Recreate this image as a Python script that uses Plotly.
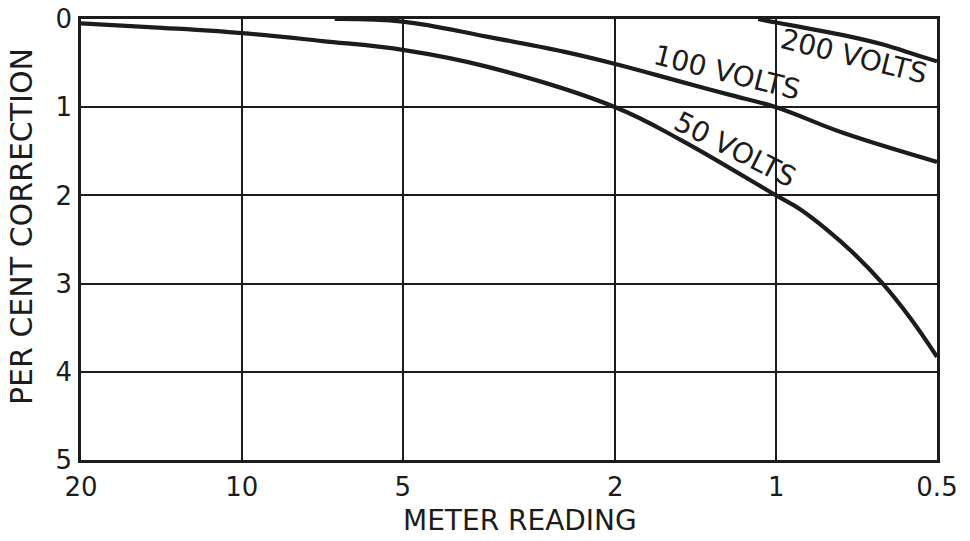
import math
import plotly.graph_objects as go

# ---- data ----
x_ticks = [20, 10, 5, 2, 1, 0.5]
x_tick_labels = ["20", "10", "5", "2", "1", "0.5"]
y_ticks = [0, 1, 2, 3, 4, 5]
y_tick_labels = ["0", "1", "2", "3", "4", "5"]

volts50_x = [20, 14.1, 10, 7.07, 5, 3.48, 2, 1.51, 1, 0.902, 0.803, 0.718, 0.634, 0.562, 0.5]
volts50_y = [0.05, 0.10, 0.16, 0.25, 0.35, 0.54, 1.0, 1.37, 2.0, 2.156, 2.39, 2.65, 2.99, 3.385, 3.83]

volts100_x = [6.7, 5, 3.48, 2.5, 2, 1.51, 1.22, 1, 0.75, 0.5]
volts100_y = [0.0, 0.03, 0.2, 0.37, 0.51, 0.71, 0.86, 1.0, 1.29, 1.62]

volts200_x = [1.08, 1, 0.902, 0.727, 0.631, 0.545, 0.5]
volts200_y = [0.0, 0.04, 0.09, 0.2, 0.29, 0.41, 0.48]

series_names = ["50 VOLTS", "100 VOLTS", "200 VOLTS"]

INK = "#1c1c1c"
FONT = "DejaVu Sans"

fig = go.Figure()
for xs, ys, name in [(volts50_x, volts50_y, series_names[0]),
                     (volts100_x, volts100_y, series_names[1]),
                     (volts200_x, volts200_y, series_names[2])]:
    fig.add_trace(go.Scatter(x=xs, y=ys, mode="lines", name=name,
                             line=dict(color=INK, width=4.2, shape="spline", smoothing=1.1),
                             showlegend=False, hoverinfo="skip"))

# plot-area geometry (pixels) used for masks that break the grid near labels
W, H = 970, 541
ML, MR, MT, MB = 81, 33, 19, 81
PW, PH = W - ML - MR, H - MT - MB


def to_paper(px, py):
    return (px - ML) / PW, 1 - (py - MT) / PH


def mask_path(cx, cy, w, h, ang):
    a = math.radians(ang)
    ca, sa = math.cos(a), math.sin(a)
    pts = []
    for dx, dy in [(-w / 2, -h / 2), (w / 2, -h / 2), (w / 2, h / 2), (-w / 2, h / 2)]:
        px = cx + dx * ca - dy * sa
        py = cy + dx * sa + dy * ca
        pts.append(to_paper(px, py))
    return "M " + " L ".join(f"{x:.4f},{y:.4f}" for x, y in pts) + " Z"


# labels: (text, x value, y value, angle, mask width, mask height)
labels = [
    (series_names[2], 0.715, 0.43, 14, 168, 28),
    (series_names[1], 1.236, 0.61, 14, 162, 28),
    (series_names[0], 1.194, 1.485, 27, 142, 28),
]


def to_px(xv, yv):
    px = ML + (math.log10(20) - math.log10(xv)) / (math.log10(20) - math.log10(0.5)) * PW
    py = MT + yv / 5 * PH
    return px, py


shapes = []
annotations = []
for text, xv, yv, ang, mw, mh in labels:
    cx, cy = to_px(xv, yv)
    shapes.append(dict(type="path", xref="paper", yref="paper",
                       path=mask_path(cx, cy, mw, mh, ang),
                       fillcolor="white", line=dict(width=0), layer="between"))
    annotations.append(dict(x=math.log10(xv), y=yv, xref="x", yref="y", text=text,
                            showarrow=False, textangle=ang,
                            xanchor="center", yanchor="middle",
                            font=dict(family=FONT, size=28, color=INK)))

# hand-drawn breaks in the grid of the original drawing
for (x0, y0, x1, y1) in [(634, 104, 730, 112), (772, 21, 782, 96), (772, 148, 782, 191)]:
    px0, py0 = to_paper(x0, y0)
    px1, py1 = to_paper(x1, y1)
    shapes.append(dict(type="rect", xref="paper", yref="paper", x0=px0, y0=py0, x1=px1, y1=py1,
                       fillcolor="white", line=dict(width=0), layer="between"))

annotations.append(dict(x=(520 - ML) / PW, y=1 - (520 - MT) / PH, xref="paper", yref="paper",
                        text="METER READING", showarrow=False,
                        xanchor="center", yanchor="middle",
                        font=dict(family=FONT, size=28, color=INK)))
annotations.append(dict(x=(21 - ML) / PW, y=1 - (227 - MT) / PH, xref="paper", yref="paper",
                        text="PER CENT CORRECTION", showarrow=False, textangle=-90,
                        xanchor="center", yanchor="middle",
                        font=dict(family=FONT, size=30, color=INK)))

fig.update_layout(
    width=W, height=H,
    margin=dict(l=ML, r=MR, t=MT, b=MB, autoexpand=False),
    paper_bgcolor="white", plot_bgcolor="white",
    shapes=shapes, annotations=annotations,
    xaxis=dict(type="log", range=[math.log10(20), math.log10(0.5)],
               tickvals=x_ticks, ticktext=x_tick_labels, automargin=False,
               showgrid=True, gridcolor=INK, gridwidth=2,
               showline=True, linecolor=INK, linewidth=2.5, mirror=True,
               ticks="", ticklabelstandoff=2,
               tickfont=dict(family=FONT, size=26, color=INK)),
    yaxis=dict(range=[5, 0], tickvals=y_ticks, ticktext=y_tick_labels, automargin=False,
               showgrid=True, gridcolor=INK, gridwidth=2, zeroline=False,
               showline=True, linecolor=INK, linewidth=2.5, mirror=True,
               ticks="", ticklabelstandoff=1,
               tickfont=dict(family=FONT, size=26, color=INK)),
)

fig.write_html("out.html", config={"displayModeBar": False},
               post_script="document.body.style.margin='0';")
